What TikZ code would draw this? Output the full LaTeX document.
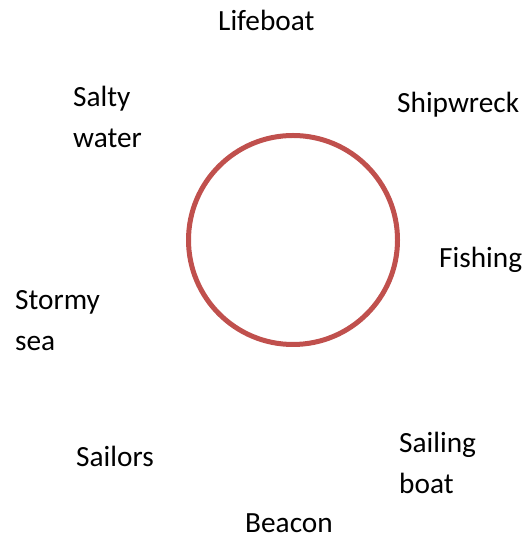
\documentclass[tikz,border=0pt]{standalone}
\usepackage{fontspec}
\setmainfont{Carlito}
\definecolor{ringred}{HTML}{C0504D}
\begin{document}
\begin{tikzpicture}[x=1pt,y=1pt,
  lbl/.style={anchor=base west,inner sep=0pt,align=left,
    font=\fontsize{29.3}{41}\selectfont},
  ring/.style={draw=ringred,line width=5pt}]
\useasboundingbox (0,0) rectangle (523,537);
\node[ring,circle,minimum size=209pt,inner sep=0pt] (c) at (293,297) {};
\node[lbl] (lifeboat) at (218,506) {Lifeboat};
\node[lbl] (salty) at (73,389) {Salty\\water};
\node[lbl] (ship) at (397,424) {Shipwreck};
\node[lbl] (fish) at (439,269) {Fishing};
\node[lbl] (stormy) at (15,186) {Stormy\\sea};
\node[lbl] (sailors) at (76,70) {Sailors};
\node[lbl] (sailing) at (399,43) {Sailing\\boat};
\node[lbl] (beacon) at (245,4.5) {Beacon};
\end{tikzpicture}
\end{document}
